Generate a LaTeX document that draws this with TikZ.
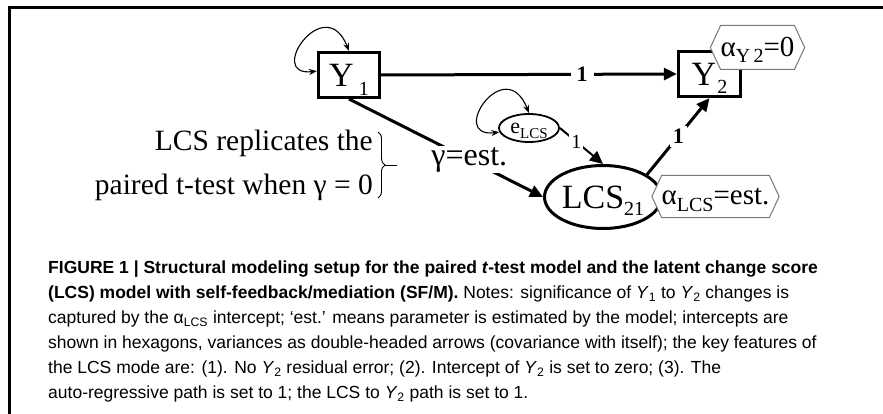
\documentclass[tikz,border=0pt]{standalone}
\usepackage{fontspec}
\setmainfont{Liberation Serif}
\newfontfamily\capfont{Liberation Sans}
\usetikzlibrary{arrows.meta,shapes.symbols,shapes.geometric,decorations.pathreplacing}
\definecolor{hexgray}{RGB}{120,120,120}
\newcommand{\fs}[1]{\fontsize{#1}{#1}\selectfont}
\newcommand{\lowsub}[2]{\smash{\raisebox{-#1}{\fs{20}#2}}}
\begin{document}
\begin{tikzpicture}[x=1pt,y=-1pt,
  box/.style={draw, rectangle, inner sep=0pt},
  lat/.style={draw, ellipse, inner sep=0pt},
  hexa/.style={draw=hexgray, fill=white, signal, signal to=east and west, signal pointer angle=130, inner sep=0pt, line width=1pt},
  arr/.style={line width=3pt, -{Triangle[length=13pt,width=12pt]}},
  var/.style={line width=1.1pt, {Stealth[length=8pt,width=6pt]}-{Stealth[length=8pt,width=6pt]}},
  wt/.style={fill=white, inner sep=3pt},
]
\useasboundingbox (0,0) rectangle (883,414);
\fill[white] (0,0) rectangle (883,414);
\draw[line width=2.7pt] (9.5,414) -- (9.5,7.5) -- (883,7.5);

\node[box, line width=3pt, minimum width=61pt, minimum height=45pt] (Y1) at (349,75) {\fs{34}Y\hspace{5pt}\lowsub{9pt}{1}\hspace{6pt}};
\node[box, line width=3.3pt, minimum width=62pt, minimum height=45pt] (Y2) at (709.5,74) {\fs{34}Y\hspace{1pt}\lowsub{8pt}{2}};
\node[lat, line width=3pt, minimum width=117pt, minimum height=63pt] (LCS) at (603,197) {\fs{34}LCS\lowsub{7pt}{21}\hspace{4pt}};
\node[lat, line width=1.8pt, minimum width=60pt, minimum height=28pt] (e) at (529,128) {\fs{22}e\smash{\raisebox{-5pt}{\fs{15}LCS}}};

\node[hexa, minimum width=88pt, minimum height=44pt] (hY2) at (757.5,47.5) {\fs{29}α\smash{\raisebox{-6pt}{\fs{20}Y\,2}}=0};
\node[hexa, minimum width=124pt, minimum height=42pt] (hLCS) at (715.5,196.5) {\fs{29}α\smash{\raisebox{-7pt}{\fs{20}LCS}}=est.};

\draw[arr] (Y1.east) -- node[wt, pos=0.68, inner sep=6pt] (l1) {\bfseries\fs{22}1} (Y2.west);
\draw[arr] (Y1.south) -- node[wt, pos=0.62, inner sep=1pt] (g) {\fs{32}γ=est.} (LCS.west);
\draw[arr, line width=2pt] (e.east) -- node[wt, pos=0.38, inner sep=2pt] (l2) {\fs{20}1} (LCS.north);
\draw[arr] (LCS.27) -- node[wt, pos=0.5, inner sep=3pt] (l3) {\bfseries\fs{22}1} (Y2.south);

\draw[var] (Y1.173) .. controls +(-52,6) and +(-24,-61) .. (Y1.north);
\draw[var] (e.188) .. controls +(-52,6) and +(-24,-61) .. (e.north);

\node[anchor=east, align=right, inner sep=0pt, font={\fontsize{29.5}{44}\selectfont}] (note) at (373,165) {LCS replicates the\\paired t-test when γ = 0};
\coordinate (bt) at (378,132);
\coordinate (bb) at (378,198);
\coordinate (btip) at (385,165);
\coordinate (bend) at (397,165);
\draw[decorate, decoration={brace, amplitude=7pt}, line width=0.9pt] (bt) -- (bb);
\draw[line width=0.9pt] (btip) -- (bend);

\node[anchor=north west, align=left, inner sep=0pt, font={\capfont\fontsize{17.5}{25}\selectfont}] (cap) at (48,261) {\textbf{FIGURE 1 | Structural modeling setup for the paired \textit{t}-test model and the latent change score}\\
\textbf{(LCS) model with self-feedback/mediation (SF/M).} Notes: significance of \textit{Y}\textsubscript{1} to \textit{Y}\textsubscript{2} changes is\\
captured by the α\textsubscript{LCS} intercept; ‘est.’ means parameter is estimated by the model; intercepts are\\
shown in hexagons, variances as double-headed arrows (covariance with itself); the key features of\\
the LCS mode are: (1). No \textit{Y}\textsubscript{2} residual error; (2). Intercept of \textit{Y}\textsubscript{2} is set to zero; (3). The\\
auto-regressive path is set to 1; the LCS to \textit{Y}\textsubscript{2} path is set to 1.};
\end{tikzpicture}
\end{document}
